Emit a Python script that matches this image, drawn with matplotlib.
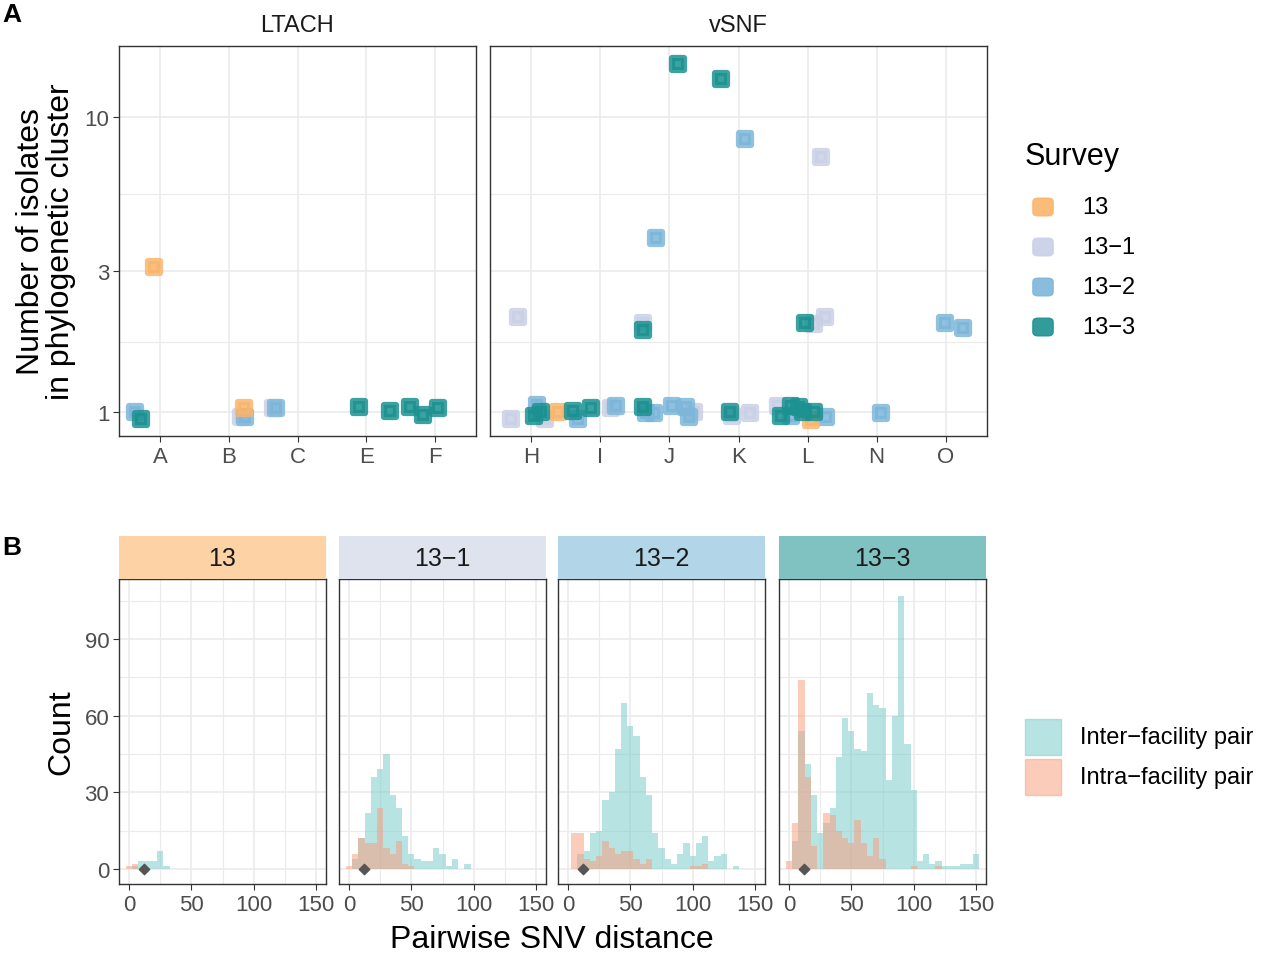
import numpy as np
import matplotlib
matplotlib.use("Agg")
import matplotlib.pyplot as plt

plt.rcParams['font.family'] = ['Liberation Sans', 'DejaVu Sans']

surveys = ["13", "13\u22121", "13\u22122", "13\u22123"]
pt_colors = ["#F9B56B", "#C9D0E6", "#7DB6DA", "#1B9191"]
strip_colors = ["#FDD3A6", "#DEE3EE", "#B3D5E8", "#80C1C1"]

ltach_cats = ["A", "B", "C", "E", "F"]
vsnf_cats = ["H", "I", "J", "K", "L", "N", "O"]

# Panel A points: facility, survey index, jitter offset, cluster size (as read)
ltach_fac = ["A", "A", "A", "B", "B", "B", "C", "C", "E", "E", "F", "F", "F"]
ltach_srv = [0, 2, 3, 0, 1, 2, 1, 2, 3, 3, 3, 3, 3]
ltach_dx = [-0.09, -0.36, -0.28, 0.22, 0.17, 0.23, -0.35, -0.32, -0.10, 0.35, -0.36, -0.17, 0.04]
ltach_n = [3.1, 1.0, 0.95, 1.03, 0.96, 0.965, 1.03, 1.03, 1.04, 1.01, 1.04, 0.98, 1.03]

vsnf_fac = ["H", "H", "H", "H", "H", "H", "I", "I", "I", "I", "I",
            "J", "J", "J", "J", "J", "J", "J", "K", "K", "K",
            "L", "L", "L", "L", "L", "L", "L", "L", "L", "N",
            "H", "J", "J", "J", "J", "K", "K", "L", "L", "L", "L", "O", "O"]
vsnf_srv = [1, 2, 3, 3, 1, 0, 3, 2, 3, 1, 2,
            3, 2, 2, 2, 2, 1, 2, 3, 1, 1,
            1, 3, 2, 3, 3, 3, 0, 3, 2, 2,
            1, 1, 3, 2, 3, 3, 2, 1, 3, 1, 1, 2, 2]
vsnf_dx = [-0.29, 0.08, 0.04, 0.14, 0.19, 0.38, -0.40, -0.33, -0.13, 0.16, 0.22,
           -0.39, -0.34, -0.22, 0.04, 0.24, 0.36, 0.28, -0.13, -0.09, 0.16,
           -0.43, -0.38, -0.24, -0.24, -0.12, -0.07, 0.05, 0.10, 0.27, 0.07,
           -0.20, -0.38, -0.38, -0.20, 0.13, -0.25, 0.10, 0.19, -0.03, 0.10, 0.26, -0.01, 0.25]
vsnf_n = [0.95, 1.06, 0.97, 1.0, 0.95, 1.0, 1.01, 0.95, 1.03, 1.03, 1.05,
          1.04, 0.99, 0.99, 1.05, 1.04, 1.0, 0.96, 1.0, 0.97, 0.99,
          1.05, 0.97, 0.97, 1.05, 1.04, 1.0, 0.94, 1.0, 0.96, 0.99,
          2.1, 2.0, 1.9, 3.9, 15.1, 13.5, 8.4, 7.3, 2.0, 1.99, 2.1, 2.0, 1.93]

# Panel B histograms: counts per 5-SNV bin (bin centers 0,5,10,...)
bin_centers = np.arange(0, 155, 5)
inter_13 = [0, 1, 3, 3, 3, 7, 1] + [0] * 24
intra_13 = [1, 2] + [0] * 29
inter_13_1 = [0, 4, 12, 22, 36, 39, 45, 29, 24, 13, 6, 4, 3, 3, 8, 6, 1, 4, 0, 2] + [0] * 11
intra_13_1 = [1, 6, 12, 10, 10, 24, 8, 6, 11, 2, 1] + [0] * 20
inter_13_2 = [0, 0, 6, 7, 14, 15, 27, 30, 47, 65, 56, 52, 36, 29, 14, 8, 4, 2, 6, 10, 5, 10, 13, 3, 5, 6, 0, 1, 0, 0, 0]
intra_13_2 = [0, 14, 14, 4, 3, 5, 11, 8, 6, 7, 7, 4, 2, 4, 0, 0, 0, 0, 0, 0, 1, 1, 2, 0, 0, 0, 0, 0, 0, 0, 0]
inter_13_3 = [0, 11, 54, 41, 29, 14, 18, 24, 44, 59, 54, 47, 46, 69, 64, 63, 35, 60, 107, 49, 31, 3, 6, 2, 3, 1, 1, 1, 2, 2, 6]
intra_13_3 = [3, 18, 74, 36, 9, 0, 22, 21, 15, 12, 10, 19, 10, 5, 12, 4, 0, 0, 0, 0, 1, 0, 0, 0, 1, 0, 0, 0, 0, 0, 0]
median_snv = [12, 12, 12, 12]

inter_all = [inter_13, inter_13_1, inter_13_2, inter_13_3]
intra_all = [intra_13, intra_13_1, intra_13_2, intra_13_3]

W, H = 1280, 954
fig = plt.figure(figsize=(12.8, 9.54), dpi=100)

def ax_px(x0, y0, x1, y1):
    return fig.add_axes([x0 / W, 1 - y1 / H, (x1 - x0) / W, (y1 - y0) / H])

GRID = "#EBEBEB"
FS = 16

def style(ax):
    for s in ax.spines.values():
        s.set_color("#333333")
        s.set_linewidth(1.0)
    ax.tick_params(colors="#333333", labelcolor="#4D4D4D", labelsize=FS, length=4, width=0.8, pad=3)
    ax.tick_params(which="minor", length=0)
    ax.set_axisbelow(True)

# ---- Panel A
for (x0, x1, cats, fac, srv, dx, nn, title) in [
        (119, 476, ltach_cats, ltach_fac, ltach_srv, ltach_dx, ltach_n, "LTACH"),
        (490, 987, vsnf_cats, vsnf_fac, vsnf_srv, vsnf_dx, vsnf_n, "vSNF")]:
    ax = ax_px(x0, 47, x1, 437)
    style(ax)
    ax.set_yscale("log")
    ax.set_ylim(0.83, 17.4)
    ax.set_xlim(-0.6, len(cats) - 1 + 0.6)
    ax.set_yticks([1, 3, 10])
    ax.set_yticks([np.sqrt(3), np.sqrt(30)], minor=True)
    ax.set_xticks(range(len(cats)))
    ax.set_xticklabels(cats)
    ax.yaxis.set_minor_formatter(plt.NullFormatter())
    if title == "LTACH":
        ax.set_yticklabels(["1", "3", "10"])
        ax.set_ylabel("Number of isolates\nin phylogenetic cluster", fontsize=23, labelpad=6, linespacing=1.0)
    else:
        ax.set_yticklabels([])
        ax.tick_params(axis="y", length=0)
    ax.grid(True, which="major", color=GRID, lw=1.2)
    ax.grid(True, which="minor", axis="y", color=GRID, lw=0.8)
    xs = [cats.index(f) + d for f, d in zip(fac, dx)]
    for si in [1, 2, 0, 3]:
        idx = [i for i, s in enumerate(srv) if s == si]
        sc = ax.scatter([xs[i] for i in idx], [nn[i] for i in idx], s=70, marker="s",
                        color=pt_colors[si], alpha=0.85, linewidths=4.5,
                        edgecolors=pt_colors[si], zorder=3)
        sc.set_joinstyle("round")
    ax.text(0.5, 1.025, title, transform=ax.transAxes, ha="center", va="bottom", fontsize=FS + 1, color="#1A1A1A")

# Survey legend
fig.text(1025 / W, 1 - 157 / H, "Survey", fontsize=22, va="center", ha="left")
for i, (lab, c) in enumerate(zip(surveys, pt_colors)):
    y = 208 + 40 * i
    fig.patches.append(matplotlib.patches.FancyBboxPatch(
        (1038 / W, 1 - (y + 5) / H), 10 / W, 10 / H, boxstyle="round,pad=0.004",
        transform=fig.transFigure, color=c, alpha=0.9))
    fig.text(1082 / W, 1 - y / H, lab, fontsize=FS + 1, va="center", ha="left")

# ---- Panel B
panels = [(119, 326), (339, 546), (558, 765), (779, 986)]
for k, (x0, x1) in enumerate(panels):
    ax = ax_px(x0, 580, x1, 885)
    style(ax)
    ax.set_xlim(-8, 158)
    ax.set_ylim(-5.9, 113.5)
    ax.set_xticks([0, 50, 100, 150])
    ax.set_xticks([25, 75, 125], minor=True)
    ax.set_yticks([0, 30, 60, 90])
    ax.set_yticks([15, 45, 75, 105], minor=True)
    ax.grid(True, which="major", color=GRID, lw=1.2)
    ax.grid(True, which="minor", color=GRID, lw=0.8)
    if k > 0:
        ax.set_yticklabels([])
        ax.tick_params(axis="y", length=0)
    else:
        ax.set_ylabel("Count", fontsize=23, labelpad=6)
    ax.bar(bin_centers, inter_all[k], width=5, color="#7FCDCD", alpha=0.55, lw=0, zorder=2)
    ax.bar(bin_centers, intra_all[k], width=5, color="#FB9A78", alpha=0.5, lw=0, zorder=2)
    ax.scatter([median_snv[k]], [0], marker="D", s=28, color="#555555", zorder=4)
    sax = ax_px(x0, 537, x1, 580)
    sax.set_xticks([]); sax.set_yticks([])
    sax.set_facecolor(strip_colors[k])
    for s in sax.spines.values():
        s.set_visible(False)
    sax.text(0.5, 0.5, surveys[k], ha="center", va="center", fontsize=FS + 2, color="#1A1A1A", transform=sax.transAxes)

fig.text(552 / W, 1 - 940 / H, "Pairwise SNV distance", fontsize=23, ha="center", va="center")

for i, (lab, c, a) in enumerate([("Inter\u2212facility pair", "#7FCDCD", 0.55), ("Intra\u2212facility pair", "#FB9A78", 0.5)]):
    y = 738 + 40 * i
    fig.patches.append(matplotlib.patches.Rectangle(
        (1025 / W, 1 - (y + 18) / H), 36 / W, 36 / H, transform=fig.transFigure, color=c, alpha=a))
    fig.text(1080 / W, 1 - y / H, lab, fontsize=FS + 1, va="center", ha="left")

fig.text(12 / W, 1 - 15 / H, "A", fontsize=19, fontweight="bold", va="center", ha="center")
fig.text(12 / W, 1 - 548 / H, "B", fontsize=19, fontweight="bold", va="center", ha="center")

fig.savefig("out.png", dpi=100, facecolor="white")
